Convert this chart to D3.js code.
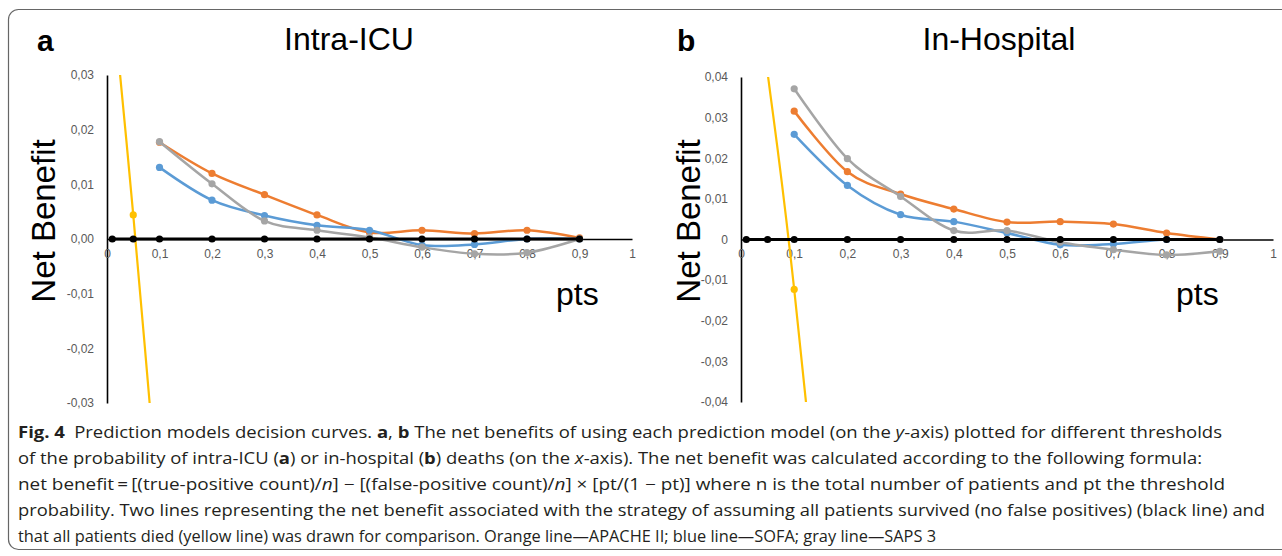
<!DOCTYPE html>
<html>
<head>
<meta charset="utf-8">
<script src="https://cdn.jsdelivr.net/npm/d3@7"></script>
<style>
  body { margin: 0; background: #fff; }
  svg { display: block; }
  .tick text { font-family: "Liberation Sans", Arial, sans-serif; font-size: 12px; fill: #595959; }
  .title { font-family: "Liberation Sans", Arial, sans-serif; fill: #000; }
  .caption { font-family: "Open Sans", sans-serif; font-size: 16px; fill: #231f20; }
</style>
</head>
<body>
<svg id="chart" width="1282" height="556"></svg>
<script>
// ----- Data ----------------------------------------------------------------
var X_TICKS = [0, 0.1, 0.2, 0.3, 0.4, 0.5, 0.6, 0.7, 0.8, 0.9, 1];
var X_LABELS = ['0', '0,1', '0,2', '0,3', '0,4', '0,5', '0,6', '0,7', '0,8', '0,9', '1'];

var MODEL_PTS = [0.1, 0.2, 0.3, 0.4, 0.5, 0.6, 0.7, 0.8, 0.9];
var NONE_PTS = [0.01, 0.05, 0.1, 0.2, 0.3, 0.4, 0.5, 0.6, 0.7, 0.8, 0.9];
var NONE_VALUES = [0, 0, 0, 0, 0, 0, 0, 0, 0, 0, 0];

// a: Intra-ICU
var ICU_Y_TICKS = [0.03, 0.02, 0.01, 0, -0.01, -0.02, -0.03];
var ICU_Y_LABELS = ['0,03', '0,02', '0,01', '0,00', '-0,01', '-0,02', '-0,03'];
var ICU_APACHE = [0.0177, 0.0120, 0.0081, 0.0044, 0.0012, 0.0016, 0.0010, 0.0016, 0.0002];
var ICU_SOFA = [0.0131, 0.0071, 0.0043, 0.0025, 0.0016, -0.0011, -0.0010, 0, 0];
var ICU_SAPS = [0.0178, 0.0101, 0.0033, 0.0016, 0.0003, -0.0015, -0.0027, -0.0025, 0];
var ICU_ALL_PTS = [0.01, 0.05, 0.1];
var ICU_ALL = [0.045, 0.0044, -0.051];

// b: In-Hospital
var HOSP_Y_TICKS = [0.04, 0.03, 0.02, 0.01, 0, -0.01, -0.02, -0.03, -0.04];
var HOSP_Y_LABELS = ['0,04', '0,03', '0,02', '0,01', '0', '-0,01', '-0,02', '-0,03', '-0,04'];
var HOSP_APACHE = [0.0316, 0.0167, 0.0112, 0.0075, 0.0043, 0.0044, 0.0038, 0.0016, 0];
var HOSP_SOFA = [0.0259, 0.0133, 0.0061, 0.0044, 0.0016, -0.0013, -0.0011, 0, 0];
var HOSP_SAPS = [0.0371, 0.0199, 0.0106, 0.0022, 0.0022, -0.0007, -0.0025, -0.0038, -0.0029];
var HOSP_ALL_PTS = [0.01, 0.05, 0.1, 0.2];
var HOSP_ALL = [0.0797, 0.041, -0.0123, -0.139];

var ORANGE = '#ed7d31';
var BLUE = '#5b9bd5';
var GRAY = '#a5a5a5';
var YELLOW = '#ffc000';

var svg = d3.select('#chart');

// frame round the figure
svg.append('rect')
    .attr('x', 8.5).attr('y', 9.5)
    .attr('width', 1300).attr('height', 540)
    .attr('rx', 10)
    .attr('fill', 'none')
    .attr('stroke', '#666')
    .attr('stroke-width', 1.2);

function zip(xs, ys) {
  return xs.map(function(x, i) { return { x: x, y: ys[i] }; });
}

function drawPanel(cfg) {
  var x = d3.scaleLinear().domain([0, 1]).range([cfg.left, cfg.right]);
  var y = d3.scaleLinear().domain(cfg.yDomain).range([cfg.bottom, cfg.top]);
  var g = svg.append('g');

  var clipId = 'clip-' + cfg.letter;
  g.append('clipPath').attr('id', clipId)
    .append('rect')
      .attr('x', cfg.left - 10).attr('y', cfg.top)
      .attr('width', cfg.right - cfg.left + 20)
      .attr('height', cfg.bottom - cfg.top);

  // y axis
  g.append('g')
      .attr('transform', 'translate(' + cfg.left + ',0)')
      .call(d3.axisLeft(y)
        .tickValues(cfg.yTicks)
        .tickSize(0)
        .tickPadding(13)
        .tickFormat(function(d, i) { return cfg.yLabels[i]; }))
    .call(function(a) {
      a.select('.domain').attr('stroke', '#000').attr('stroke-width', 1.6);
      a.selectAll('.tick text').attr('text-anchor', 'end');
    });

  // x axis at zero
  g.append('g')
      .attr('transform', 'translate(0,' + y(0) + ')')
      .call(d3.axisBottom(x)
        .tickValues(X_TICKS)
        .tickSize(0)
        .tickPadding(10)
        .tickFormat(function(d, i) { return X_LABELS[i]; }))
    .call(function(a) {
      a.select('.domain').attr('stroke', '#000').attr('stroke-width', 1.6);
    });

  var line = d3.line()
      .x(function(d) { return x(d.x); })
      .y(function(d) { return y(d.y); })
      .curve(d3.curveCardinal.tension(0));

  var plot = g.append('g').attr('clip-path', 'url(#' + clipId + ')');

  cfg.series.forEach(function(s) {
    var pts = zip(s.xs, s.ys);
    plot.append('path')
        .datum(pts)
        .attr('fill', 'none')
        .attr('stroke', s.color)
        .attr('stroke-width', s.width || 2.5)
        .attr('d', line);
    plot.selectAll(null)
        .data(pts)
      .enter().append('circle')
        .attr('cx', function(d) { return x(d.x); })
        .attr('cy', function(d) { return y(d.y); })
        .attr('r', 3.6)
        .attr('fill', s.color);
  });

  svg.append('text').attr('class', 'title')
      .attr('x', cfg.letterX).attr('y', 51)
      .style('font-size', '30px').style('font-weight', 'bold')
      .text(cfg.letter);
  svg.append('text').attr('class', 'title')
      .attr('x', cfg.titleX).attr('y', 50)
      .attr('text-anchor', 'middle')
      .style('font-size', '32px')
      .text(cfg.title);
  svg.append('text').attr('class', 'title')
      .attr('transform', 'translate(' + cfg.yLabelX + ',221) rotate(-90)')
      .attr('text-anchor', 'middle')
      .style('font-size', '33px')
      .text('Net Benefit');
  svg.append('text').attr('class', 'title')
      .attr('x', cfg.ptsX).attr('y', 305)
      .style('font-size', '32px')
      .text('pts');
}

drawPanel({
  letter: 'a', title: 'Intra-ICU',
  left: 107, right: 632, top: 75, bottom: 403,
  yDomain: [-0.03, 0.03], yTicks: ICU_Y_TICKS, yLabels: ICU_Y_LABELS,
  letterX: 37, titleX: 349, yLabelX: 55, ptsX: 556,
  series: [
    { xs: MODEL_PTS, ys: ICU_APACHE, color: ORANGE },
    { xs: MODEL_PTS, ys: ICU_SOFA, color: BLUE },
    { xs: MODEL_PTS, ys: ICU_SAPS, color: GRAY },
    { xs: ICU_ALL_PTS, ys: ICU_ALL, color: YELLOW, width: 2.2 },
    { xs: NONE_PTS, ys: NONE_VALUES, color: '#000', width: 3 }
  ]
});

drawPanel({
  letter: 'b', title: 'In-Hospital',
  left: 741, right: 1273, top: 77, bottom: 402,
  yDomain: [-0.04, 0.04], yTicks: HOSP_Y_TICKS, yLabels: HOSP_Y_LABELS,
  letterX: 677, titleX: 999, yLabelX: 700, ptsX: 1176,
  series: [
    { xs: MODEL_PTS, ys: HOSP_APACHE, color: ORANGE },
    { xs: MODEL_PTS, ys: HOSP_SOFA, color: BLUE },
    { xs: MODEL_PTS, ys: HOSP_SAPS, color: GRAY },
    { xs: HOSP_ALL_PTS, ys: HOSP_ALL, color: YELLOW, width: 2.2 },
    { xs: NONE_PTS, ys: NONE_VALUES, color: '#000', width: 3 }
  ]
});

// ----- Caption -------------------------------------------------------------
// each line: list of [text, style] pieces, plus the width it fills
var CAPTION = [
  { w: 1204, parts: [['Fig. 4', 'b'], ['\u2002Prediction models decision curves. '], ['a', 'b'], [', '], ['b', 'b'],
    [' The net benefits of using each prediction model (on the '], ['y', 'i'], ['-axis) plotted for different thresholds']] },
  { w: 1184, parts: [['of the probability of intra-ICU ('], ['a', 'b'], [') or in-hospital ('], ['b', 'b'],
    [') deaths (on the '], ['x', 'i'], ['-axis). The net benefit was calculated according to the following formula:']] },
  { w: 1207, parts: [['net benefit\u2009=\u2009[(true-positive count)/'], ['n', 'i'], ['] \u2212 [(false-positive count)/'], ['n', 'i'],
    ['] \u00d7 [pt/(1 \u2212 pt)] where n is the total number of patients and pt the threshold']] },
  { w: 1247, parts: [['probability. Two lines representing the net benefit associated with the strategy of assuming all patients survived (no false positives) (black line) and']] },
  { w: 918, parts: [['that all patients died (yellow line) was drawn for comparison. Orange line\u2014APACHE II; blue line\u2014SOFA; gray line\u2014SAPS 3']] }
];

CAPTION.forEach(function(ln, i) {
  var t = svg.append('text')
      .attr('class', 'caption')
      .attr('x', 18)
      .attr('y', 438 + i * 26)
      .attr('textLength', ln.w)
      .attr('lengthAdjust', 'spacingAndGlyphs');
  ln.parts.forEach(function(p) {
    t.append('tspan')
        .style('font-weight', p[1] === 'b' ? 'bold' : null)
        .style('font-style', p[1] === 'i' ? 'italic' : null)
        .text(p[0]);
  });
});
</script>
</body>
</html>
